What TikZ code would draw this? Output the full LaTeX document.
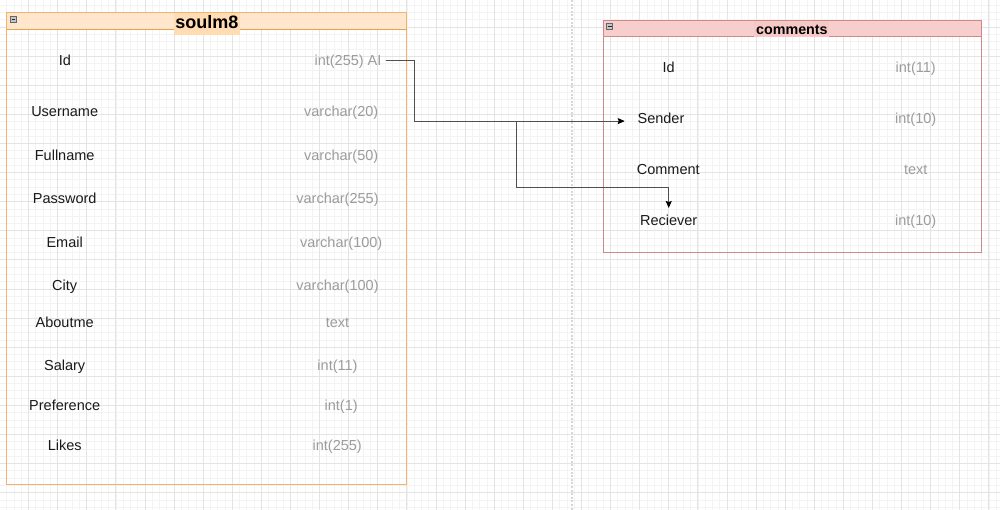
\documentclass[tikz,border=0pt]{standalone}
\usepackage{fontspec}
\setmainfont{Liberation Sans}
\usetikzlibrary{arrows.meta}
\definecolor{gridminor}{HTML}{F3F3F3}
\definecolor{gridmajor}{HTML}{E4E4E4}
\definecolor{pagebrk}{HTML}{D6D6D6}
\definecolor{orfill}{HTML}{FFE6CC}
\definecolor{orlabel}{HTML}{FFDCB4}
\definecolor{orstroke}{HTML}{F2B36A}
\definecolor{orline}{HTML}{E8A24A}
\definecolor{pkfill}{HTML}{F8CECC}
\definecolor{pklabel}{HTML}{F6C8C6}
\definecolor{pkstroke}{HTML}{CC8A88}
\definecolor{typegray}{HTML}{9C9C9C}
\definecolor{namecol}{HTML}{1A1A1A}
\definecolor{conncol}{HTML}{505050}
\tikzset{
  minorline/.style={gridminor, line width=0.6pt},
  majorline/.style={gridmajor, line width=0.7pt},
  fname/.style={anchor=base, inner sep=0pt, text=namecol, font=\fontsize{14.5}{17}\selectfont},
  ftype/.style={anchor=base, inner sep=0pt, text=typegray, font=\fontsize{14.5}{17}\selectfont},
  conn/.style={conncol, line width=0.8pt, -{Stealth[length=7pt,width=6pt,inset=1pt,color=black]}},
  icon/.style={draw=gray!80!black, fill=gray!45, line width=0.5pt, minimum width=6pt, minimum height=6pt, inner sep=0pt},
  frame/.style={line width=1pt},
}
\begin{document}
\begin{tikzpicture}[x=1pt,y=-1pt]
\useasboundingbox (0,0) rectangle (1000,510);
\fill[white] (0,0) rectangle (1000,510);
% grid
\foreach \i in {0,...,138} {
  \pgfmathsetmacro\xx{-0.6+7.275*\i}
  \draw[minorline] (\xx,0) -- (\xx,510);
}
\foreach \i in {0,...,71} {
  \pgfmathsetmacro\yy{-2.1+7.275*\i}
  \draw[minorline] (0,\yy) -- (1000,\yy);
}
\foreach \i in {0,...,35} {
  \pgfmathsetmacro\xx{-0.6+29.1*\i}
  \draw[majorline] (\xx,0) -- (\xx,510);
}
\foreach \i in {0,...,18} {
  \pgfmathsetmacro\yy{-2.1+29.1*\i}
  \draw[majorline] (0,\yy) -- (1000,\yy);
}
% page break
\draw[pagebrk, line width=1.2pt, dash pattern=on 2pt off 1.6pt] (572,0) -- (572,510);

% ===== table soulm8 =====
\node[anchor=north west, minimum width=400pt, minimum height=472pt, inner sep=0pt, outer sep=0pt] (t1) at (6.5,12.5) {};
\node[anchor=north west, minimum width=400pt, minimum height=17pt, inner sep=0pt, outer sep=0pt] (h1) at (6.5,12.5) {};
\fill[orfill] (h1.north west) rectangle (h1.south east);
\draw[frame, orstroke] (t1.north west) rectangle (t1.south east);
\draw[frame, orline] (h1.south west) -- (h1.south east);
\fill[orlabel] (174,13) rectangle (240,35.5);
\node[anchor=base, inner sep=0pt, text=black, font=\fontsize{18}{20}\selectfont\bfseries] (t1title) at (206.8,28.3) {soulm8};
\node[icon] (ic1) at (13.3,19.3) {};
\draw[gray!30!black, line width=0.6pt] (11.5,19.3) -- (15.1,19.3);

\node[fname] (n1) at (64.8,65.7) {Id};
\node[fname] (n2) at (64.7,116.7) {Username};
\node[fname] (n3) at (64.7,160.2) {Fullname};
\node[fname] (n4) at (64.7,203.9) {Password};
\node[fname] (n5) at (64.7,247.2) {Email};
\node[fname] (n6) at (64.7,290.5) {City};
\node[fname] (n7) at (64.7,327.2) {Aboutme};
\node[fname] (n8) at (64.7,370.5) {Salary};
\node[fname] (n9) at (64.7,410.5) {Preference};
\node[fname] (n10) at (64.7,450.5) {Likes};

\node[ftype] (idt) at (348,65.7) {int(255) AI};
\node[ftype] (y2) at (341.2,116.7) {varchar(20)};
\node[ftype] (y3) at (341.2,160.2) {varchar(50)};
\node[ftype] (y4) at (337.5,203.9) {varchar(255)};
\node[ftype] (y5) at (341.2,247.2) {varchar(100)};
\node[ftype] (y6) at (337.5,290.5) {varchar(100)};
\node[ftype] (y7) at (337.5,327.2) {text};
\node[ftype] (y8) at (337.5,370.5) {int(11)};
\node[ftype] (y9) at (341.2,410.5) {int(1)};
\node[ftype] (y10) at (337.2,450.5) {int(255)};

% ===== table comments =====
\node[anchor=north west, minimum width=378pt, minimum height=232pt, inner sep=0pt, outer sep=0pt] (t2) at (603.5,20.5) {};
\node[anchor=north west, minimum width=378pt, minimum height=16pt, inner sep=0pt, outer sep=0pt] (h2) at (603.5,20.5) {};
\fill[pkfill] (h2.north west) rectangle (h2.south east);
\draw[frame, pkstroke] (t2.north west) rectangle (t2.south east);
\draw[frame, pkstroke] (h2.south west) -- (h2.south east);
\fill[pklabel] (754,21) rectangle (829,36.8);
\node[anchor=base, inner sep=0pt, text=black, font=\fontsize{14.3}{17}\selectfont\bfseries] (t2title) at (791.9,35) {comments};
\node[icon] (ic2) at (609.7,26.5) {};
\draw[gray!30!black, line width=0.6pt] (607.9,26.5) -- (611.5,26.5);

\node[fname] (c1) at (668.7,72.7) {Id};
\node[fname] (sen) at (661,123.5) {Sender};
\node[fname] (c3) at (668.3,174.4) {Comment};
\node[fname] (rec) at (668.7,225.7) {Reciever};

\node[ftype] (d1) at (915.7,72.7) {int(11)};
\node[ftype] (d2) at (915.7,123.5) {int(10)};
\node[ftype] (d3) at (915.7,174.4) {text};
\node[ftype] (d4) at (915.7,225.7) {int(10)};

% ===== connectors =====
\draw[conn] ([xshift=4pt,yshift=1.7pt]idt.east) -- ++(29,0) |- ([xshift=-12.7pt,yshift=-2.8pt]sen.west);
\draw[conn] ([xshift=4pt,yshift=1.7pt]idt.east) -- ++(29,0) -- ++(0,61) -- ++(102,0) -- ++(0,66) -| ([yshift=7pt]rec.north);
\end{tikzpicture}
\end{document}
